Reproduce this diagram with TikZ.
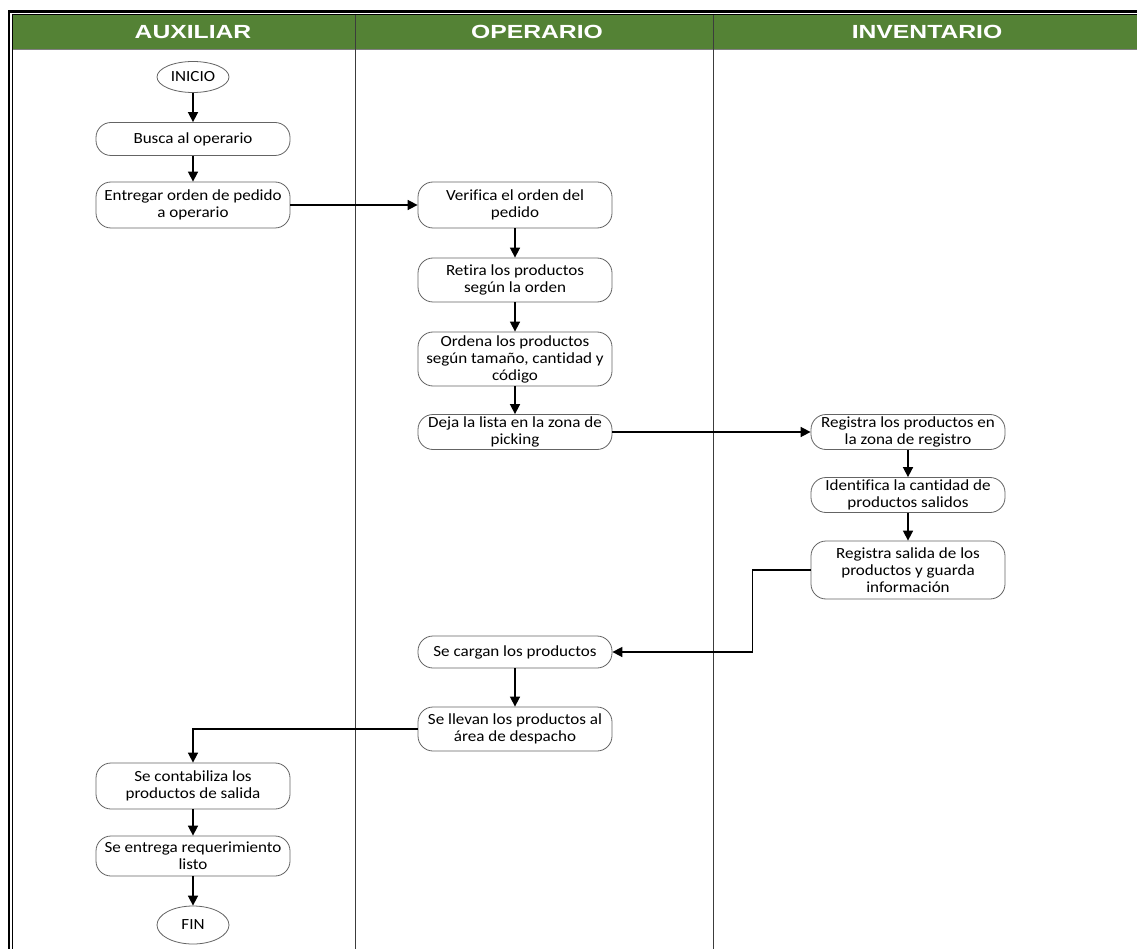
\documentclass[tikz,border=0pt]{standalone}
\usepackage{fontspec}
\setmainfont[FakeStretch=1.1,Ligatures=NoCommon]{Carlito}
\newfontfamily\headfont[FakeStretch=1.3]{Liberation Sans}
\usetikzlibrary{arrows.meta,shapes.geometric}
\definecolor{headgreen}{RGB}{84,130,53}
\definecolor{boxline}{RGB}{100,100,100}
\definecolor{laneline}{RGB}{60,60,60}
\begin{document}
\begin{tikzpicture}[x=1pt,y=-1pt,
  proc/.style={draw=boxline, line width=0.8pt, fill=white, rounded corners=15pt,
    minimum width=194pt, align=center, inner sep=2pt,
    font=\fontsize{15.5}{17}\selectfont},
  term/.style={draw=boxline, line width=0.8pt, fill=white, ellipse,
    minimum width=72pt, minimum height=31pt, inner sep=1pt,
    font=\fontsize{15.5}{17}\selectfont},
  headtext/.style={text=white, font=\headfont\bfseries\fontsize{19}{22}\selectfont},
  arr/.style={draw=black, line width=1.6pt, -{Triangle[length=10pt,width=10pt]}}
]
\useasboundingbox (0,0) rectangle (1137,949);
\fill[white] (0,0) rectangle (1137,949);

% header band
\fill[headgreen] (12,14) rectangle (1137,50);
\draw[gray, line width=1pt] (12,50) -- (1137,50);

% lane separators
\draw[laneline, line width=1pt] (355,14) -- (355,949);
\draw[laneline, line width=1pt] (713,14) -- (713,949);

% outer frame (double line)
\draw[black, line width=2.2pt] (9,949) -- (9,11.5) -- (1137,11.5);
\draw[black, line width=0.8pt] (12.5,949) -- (12.5,14.5) -- (1137,14.5);

% lane titles
\node[headtext] (hAux) at (193,32) {AUXILIAR};
\node[headtext] (hOpe) at (537,32) {OPERARIO};
\node[headtext] (hInv) at (927,32) {INVENTARIO};

% AUXILIAR lane
\node[term] (inicio) at (193,77) {INICIO};
\node[proc, minimum height=33pt] (busca) at (193,139) {Busca al operario};
\node[proc, minimum height=46pt] (entregar) at (193,205) {Entregar orden de pedido\\a operario};
\node[proc, minimum height=46pt] (contab) at (193,786) {Se contabiliza los\\productos de salida};
\node[proc, minimum height=40pt] (entrega) at (193,856) {Se entrega requerimiento\\listo};
\node[term, minimum height=38pt] (fin) at (193,925) {FIN};

% OPERARIO lane
\node[proc, minimum height=46pt] (verifica) at (515,205) {Verifica el orden del\\pedido};
\node[proc, minimum height=44pt] (retira) at (515,280) {Retira los productos\\según la orden};
\node[proc, minimum height=54pt] (ordena) at (515,359) {Ordena los productos\\según tamaño, cantidad y\\código};
\node[proc, minimum height=35pt] (deja) at (515,432) {Deja la lista en la zona de\\picking};
\node[proc, minimum height=32pt] (cargan) at (515,652) {Se cargan los productos};
\node[proc, minimum height=44pt] (llevan) at (515,729) {Se llevan los productos al\\área de despacho};

% INVENTARIO lane
\node[proc, minimum height=35pt] (regprod) at (908,432) {Registra los productos en\\la zona de registro};
\node[proc, minimum height=35pt] (ident) at (908,495) {Identifica la cantidad de\\productos salidos};
\node[proc, minimum height=58pt] (regsal) at (908,570) {Registra salida de los\\productos y guarda\\información};

% connectors
\draw[arr] (inicio) -- (busca);
\draw[arr] (busca) -- (entregar);
\draw[arr] (entregar) -- (verifica);
\draw[arr] (verifica) -- (retira);
\draw[arr] (retira) -- (ordena);
\draw[arr] (ordena) -- (deja);
\draw[arr] (deja) -- (regprod);
\draw[arr] (regprod) -- (ident);
\draw[arr] (ident) -- (regsal);
\draw[arr] (regsal.west) -- ++(-58,0) |- (cargan.east);
\draw[arr] (cargan) -- (llevan);
\draw[arr] (llevan.west) -| (contab.north);
\draw[arr] (contab) -- (entrega);
\draw[arr] (entrega) -- (fin);
\end{tikzpicture}
\end{document}
